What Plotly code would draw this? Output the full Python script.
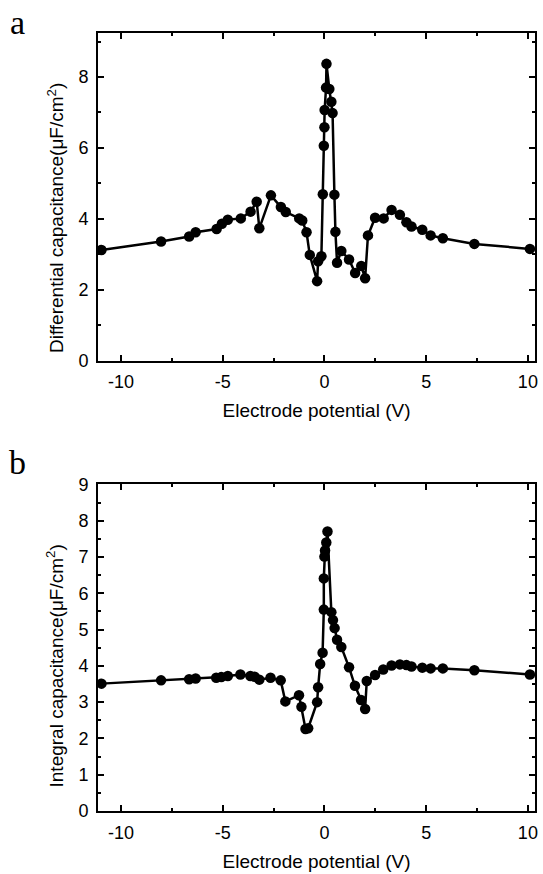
import plotly.graph_objects as go

# ---- data ----
v_diff = [-10.96, -8.03, -6.65, -6.33, -5.30, -5.04, -4.75, -4.11, -3.63, -3.33, -3.20,
          -2.63, -2.14, -1.90, -1.24, -1.09, -0.88, -0.72, -0.36, -0.31, -0.15,
          -0.08, -0.03, 0.00, 0.01, 0.08, 0.10, 0.24, 0.34, 0.40, 0.49, 0.54,
          0.62, 0.83, 1.21, 1.51, 1.81, 2.00, 2.14, 2.49, 2.91, 3.30, 3.71, 4.03,
          4.28, 4.81, 5.22, 5.82, 7.37, 10.10]
c_diff = [3.12, 3.36, 3.50, 3.62, 3.71, 3.86, 3.97, 4.01, 4.20, 4.48, 3.73,
          4.66, 4.33, 4.19, 4.01, 3.95, 3.62, 2.98, 2.24, 2.80, 2.94,
          4.69, 6.06, 6.58, 7.07, 7.70, 8.37, 7.66, 7.30, 6.98, 4.68, 3.63,
          2.76, 3.09, 2.85, 2.47, 2.67, 2.32, 3.53, 4.03, 4.01, 4.25, 4.11, 3.90,
          3.78, 3.69, 3.53, 3.45, 3.29, 3.15]

v_int = [-10.96, -8.03, -6.65, -6.33, -5.32, -5.07, -4.75, -4.13, -3.64, -3.43, -3.20,
         -2.65, -2.15, -1.92, -1.25, -1.13, -0.93, -0.80, -0.36, -0.31, -0.21,
         -0.09, -0.03, -0.03, 0.00, 0.03, 0.09, 0.15, 0.34, 0.42, 0.50, 0.62,
         0.83, 1.21, 1.50, 1.80, 2.00, 2.08, 2.49, 2.89, 3.30, 3.71, 4.03, 4.28,
         4.81, 5.22, 5.82, 7.37, 10.10]
c_int = [3.51, 3.60, 3.63, 3.65, 3.67, 3.69, 3.72, 3.76, 3.72, 3.70, 3.62,
         3.67, 3.60, 3.02, 3.19, 2.87, 2.26, 2.28, 3.00, 3.41, 4.05,
         4.36, 5.55, 6.41, 7.01, 7.18, 7.40, 7.70, 5.48, 5.26, 5.04, 4.72,
         4.52, 3.96, 3.45, 3.06, 2.81, 3.58, 3.75, 3.90, 4.01, 4.04, 4.02, 3.98,
         3.95, 3.93, 3.93, 3.88, 3.76]

x_ticks = [-10, -5, 0, 5, 10]
x_ticklabels = ["-10", "-5", "0", "5", "10"]
y_title_a = "Differential capacitance(μF/cm<sup>2</sup>)"
y_title_b = "Integral capacitance(μF/cm<sup>2</sup>)"
x_title = "Electrode potential (V)"

fig = go.Figure()
style = dict(mode="lines+markers", line=dict(color="black", width=2.5),
             marker=dict(color="black", size=10.5), showlegend=False)
fig.add_trace(go.Scatter(x=v_diff, y=c_diff, xaxis="x", yaxis="y", **style))
fig.add_trace(go.Scatter(x=v_int, y=c_int, xaxis="x2", yaxis="y2", **style))

fam = "Liberation Sans, Arial, sans-serif"
font = dict(family=fam, size=18, color="black")
title_font = dict(family=fam, size=19, color="black")
xcommon = dict(range=[-11.13, 10.35], tickvals=x_ticks, ticktext=x_ticklabels,
               ticks="inside", ticklen=6,
               tickwidth=2, tickcolor="black", showline=True, linewidth=2,
               linecolor="black", mirror="allticks", showgrid=False, zeroline=False,
               tickfont=font, ticklabelstandoff=4,
               minor=dict(tickvals=[-7.5, -2.5, 2.5, 7.5], ticks="inside", ticklen=3,
                          tickwidth=2, tickcolor="black", showgrid=False),
               title=dict(text=x_title, font=title_font, standoff=13))
ycommon = dict(ticks="inside", ticklen=6, tickwidth=2, tickcolor="black",
               showline=True, linewidth=2, linecolor="black", mirror="allticks",
               showgrid=False, zeroline=False, tickfont=font, ticklabelstandoff=4)

# pixel geometry of the plot area
L, R, T, B = 98, 5, 33, 62
pw = 543 - L - R
ph = 874 - T - B


def px_to_paper(px, py):
    return (px - L) / pw, (874 - B - py) / ph


serif = dict(family="Liberation Serif, Times New Roman, serif", size=34, color="black")
ann_specs = [
    ("a", 17, 22, 0, serif),
    ("b", 17, 463, 0, serif),
    (y_title_a, 55, 218, -90, title_font),
    (y_title_b, 55, 667, -90, title_font),
]
annotations = []
for text, px, py, ang, f in ann_specs:
    ax, ay = px_to_paper(px, py)
    annotations.append(dict(text=text, x=ax, y=ay, xref="paper", yref="paper",
                            showarrow=False, textangle=ang, font=f,
                            xanchor="center", yanchor="middle"))

fig.update_layout(
    width=543, height=874,
    margin=dict(l=L, r=R, t=T, b=B),
    paper_bgcolor="white", plot_bgcolor="white",
    font=font,
    xaxis=dict(domain=[0, 1], anchor="y", **xcommon),
    yaxis=dict(domain=[0.579, 1.0], anchor="x", range=[0, 9.24], tickvals=[0, 2, 4, 6, 8],
               minor=dict(tickvals=[1, 3, 5, 7, 9], ticks="inside", ticklen=3,
                          tickwidth=2, tickcolor="black", showgrid=False),
               **ycommon),
    xaxis2=dict(domain=[0, 1], anchor="y2", **xcommon),
    yaxis2=dict(domain=[0, 0.4198], anchor="x2", range=[0, 9], tickvals=list(range(10)),
                minor=dict(dtick=0.5, ticks="inside", ticklen=3,
                           tickwidth=2, tickcolor="black", showgrid=False),
                **ycommon),
    annotations=annotations,
)

fig.write_html("out.html")
